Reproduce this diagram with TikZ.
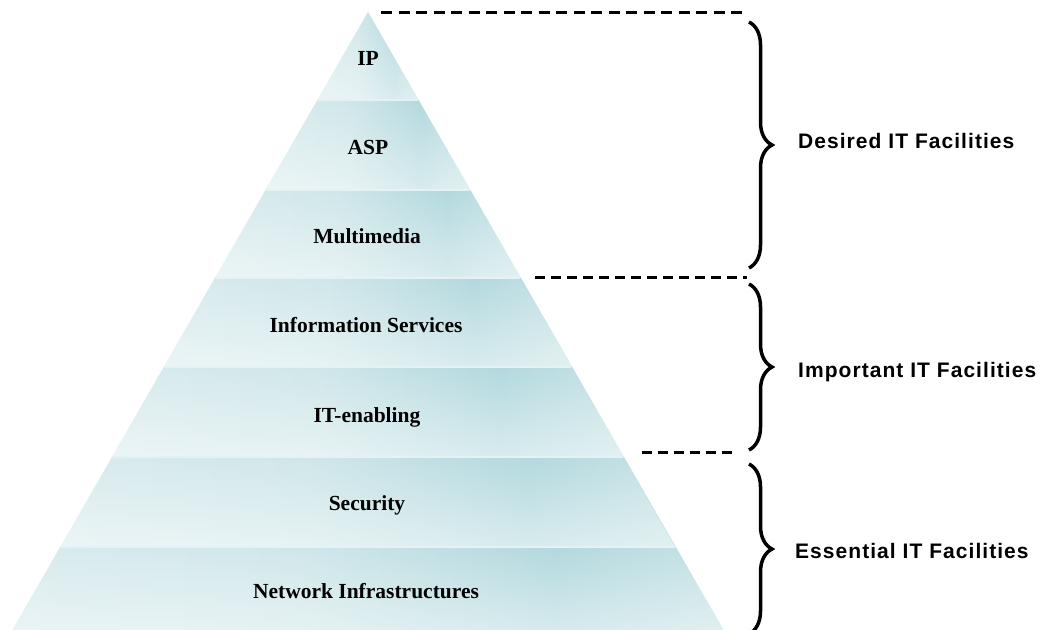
\documentclass[tikz,border=0pt]{standalone}
\usepackage{fontspec}
\setmainfont{Liberation Serif}
\newfontfamily\groupfont[LetterSpace=5]{Liberation Sans}
\usetikzlibrary{decorations.pathreplacing,fadings}

\definecolor{bandlight}{HTML}{D9EBEE}
\definecolor{bandmid}{HTML}{D0E7EA}
\definecolor{banddark}{HTML}{B3D9DE}
\definecolor{bandedge}{HTML}{C7E3E6}
\definecolor{sepline}{HTML}{E4F2F3}

% left-to-right colour run of every layer (path spans 25bp..75bp)
\pgfdeclarehorizontalshading{layershade}{100bp}{%
  color(0bp)=(bandlight); color(25bp)=(bandlight); color(45bp)=(bandmid);
  color(63bp)=(banddark); color(75bp)=(bandedge); color(100bp)=(bandedge)}
% each layer brightens towards its lower edge
\tikzfading[name=layerfade, top color=transparent!100, bottom color=transparent!50]

\tikzset{
  layerlabel/.style={font=\bfseries\fontsize{21.5}{25}\selectfont, anchor=base, inner sep=0pt},
  grouplabel/.style={font=\groupfont\bfseries\fontsize{21}{25}\selectfont, anchor=base west, inner sep=0pt},
  divider/.style={draw, line width=3pt, dash pattern=on 11pt off 6.5pt},
  groupbrace/.style={draw, line width=3.5pt, decorate,
    decoration={brace, amplitude=23pt, aspect=0.5}},
  layerline/.style={draw=sepline, line width=1.3pt}
}

\begin{document}
\begin{tikzpicture}[x=1pt, y=-1pt]
  \useasboundingbox (0,0) rectangle (1046,629);
  \clip (0,0) rectangle (1046,629);
  \fill[white] (0,0) rectangle (1046,629);

  % pyramid layers: apex (368,12), half width grows 0.5754 per unit of depth
  \foreach \ya/\yb in {12/100, 100/190, 190/278, 278/367, 367/457, 457/547, 547/636} {
    \pgfmathsetmacro\wa{0.5754*(\ya-12)}
    \pgfmathsetmacro\wb{0.5754*(\yb-12)}
    \shade[shading=layershade]
      (368-\wa,\ya) -- (368+\wa,\ya) -- (368+\wb,\yb) -- (368-\wb,\yb) -- cycle;
    \fill[white, path fading=layerfade]
      (368-\wa,\ya) -- (368+\wa,\ya) -- (368+\wb,\yb) -- (368-\wb,\yb) -- cycle;
  }
  \foreach \y in {100, 190, 278, 367, 457, 547} {
    \pgfmathsetmacro\w{0.5754*(\y-12)}
    \draw[layerline] (368-\w+0.8,\y) -- (368+\w-0.8,\y);
  }

  % layer names
  \node[layerlabel] (ip)    at (368,65)  {IP};
  \node[layerlabel] (asp)   at (368,154) {ASP};
  \node[layerlabel] (mm)    at (367,243) {Multimedia};
  \node[layerlabel] (info)  at (366,332) {Information Services};
  \node[layerlabel] (itena) at (367,422) {IT-enabling};
  \node[layerlabel] (sec)   at (367,510) {Security};
  \node[layerlabel] (net)   at (366,598) {Network Infrastructures};

  % dashed dividers between the groups
  \coordinate (d1a) at (381,12);  \coordinate (d1b) at (747,12);
  \coordinate (d2a) at (535,277); \coordinate (d2b) at (747,277);
  \coordinate (d3a) at (642,452); \coordinate (d3b) at (737,452);
  \draw[divider] (d1a) -- (d1b);
  \draw[divider, dash pattern=on 10pt off 6pt] (d2a) -- (d2b);
  \draw[divider, dash pattern=on 10pt off 6pt] (d3a) -- (d3b);

  % group braces
  \coordinate (b1t) at (749,22);  \coordinate (b1b) at (749,268);
  \coordinate (b2t) at (749,284); \coordinate (b2b) at (749,450);
  \coordinate (b3t) at (749,464); \coordinate (b3b) at (749,634);
  \draw[groupbrace] (b1t) -- (b1b);
  \draw[groupbrace] (b2t) -- (b2b);
  \draw[groupbrace] (b3t) -- (b3b);

  % group names
  \node[grouplabel] (desired)   at (798,148) {Desired IT Facilities};
  \node[grouplabel] (important) at (798,377) {Important IT Facilities};
  \node[grouplabel] (essential) at (795,558) {Essential IT Facilities};
\end{tikzpicture}
\end{document}
